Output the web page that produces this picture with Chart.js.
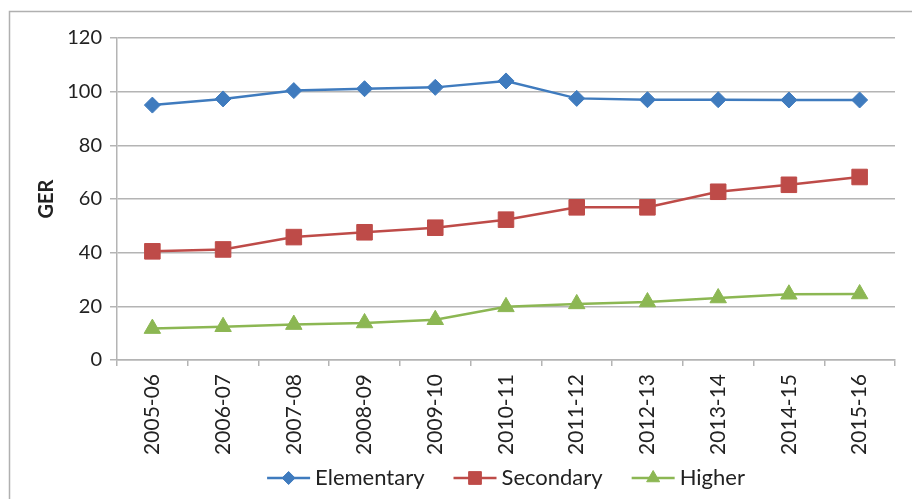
<!DOCTYPE html>
<html>
<head>
<meta charset="utf-8">
<script src="https://cdn.jsdelivr.net/npm/chart.js@4.4.0/dist/chart.umd.min.js"></script>
<style>
  html, body { margin: 0; padding: 0; background: #fff; }
  #wrap { width: 912px; height: 499px; }
</style>
</head>
<body>
<div id="wrap"><canvas id="myCanvas" width="912" height="499"></canvas></div>
<script>
// data
var years = ['2005-06', '2006-07', '2007-08', '2008-09', '2009-10', '2010-11', '2011-12', '2012-13', '2013-14', '2014-15', '2015-16'];
var elementary = [95.0, 97.3, 100.4, 101.1, 101.6, 104.0, 97.5, 97.0, 97.0, 96.9, 96.9];
var secondary = [40.5, 41.2, 45.8, 47.6, 49.3, 52.3, 56.9, 56.9, 62.7, 65.3, 68.2];
var higher = [11.7, 12.4, 13.2, 13.8, 15.0, 19.8, 20.9, 21.6, 23.1, 24.5, 24.6];
var yTicks = [0, 20, 40, 60, 80, 100, 120];

var blue = '#3F7BBE';
var red = '#BE4B48';
var green = '#8CB753';
var gridCol = '#b4b4b4';
var textCol = '#222222';

var legendLead = 19;   // empty space in front of each legend line
var legendLine = 43;   // length of the legend line
var legendMarks = [
  { pointStyle: 'rectRot', radius: 6.5 },
  { pointStyle: 'rect', radius: 9 },
  { pointStyle: 'triangle', radius: 7.5 }
];

// frame around the chart + excel style legend (line with marker)
var excelBits = {
  id: 'excelBits',
  afterLayout: function(chart) {
    var lg = chart.legend;
    lg.left = chart.chartArea.left - legendLead;
    lg.right = chart.chartArea.right;
  },
  beforeDraw: function(chart) {
    var ctx = chart.ctx;
    ctx.save();
    ctx.strokeStyle = '#b0b0b0';
    ctx.lineWidth = 1.5;
    ctx.beginPath();
    ctx.moveTo(9.5, 520);
    ctx.lineTo(9.5, 11.5);
    ctx.lineTo(920, 11.5);
    ctx.stroke();
    ctx.restore();
  },
  afterDraw: function(chart) {
    var ctx = chart.ctx;
    var boxes = chart.legend.legendHitBoxes || [];
    var sets = chart.data.datasets;
    ctx.save();
    boxes.forEach(function(b, i) {
      var y = b.top + b.height / 2;
      var x0 = b.left + legendLead;
      ctx.strokeStyle = sets[i].borderColor;
      ctx.lineWidth = 2.5;
      ctx.beginPath();
      ctx.moveTo(x0, y);
      ctx.lineTo(x0 + legendLine, y);
      ctx.stroke();
      ctx.fillStyle = sets[i].backgroundColor;
      ctx.strokeStyle = sets[i].borderColor;
      ctx.lineWidth = 1;
      Chart.helpers.drawPoint(ctx, {
        pointStyle: legendMarks[i].pointStyle,
        radius: legendMarks[i].radius,
        borderWidth: 1,
        rotation: 0
      }, x0 + legendLine / 2, y);
    });
    ctx.restore();
  }
};

var c = document.getElementById('myCanvas');
var ctx = c.getContext('2d');

Chart.defaults.font.family = 'Lato, "Liberation Sans", sans-serif';
Chart.defaults.color = textCol;

const lineChart = new Chart(ctx, {
  type: 'line',
  data: {
    labels: years,
    datasets: [{
      label: 'Elementary',
      data: elementary,
      borderColor: blue,
      backgroundColor: blue,
      borderWidth: 2.5,
      pointStyle: 'rectRot',
      pointRadius: 8,
      pointBorderWidth: 1
    }, {
      label: 'Secondary',
      data: secondary,
      borderColor: red,
      backgroundColor: red,
      borderWidth: 2.5,
      pointStyle: 'rect',
      pointRadius: 11,
      pointBorderWidth: 1
    }, {
      label: 'Higher',
      data: higher,
      borderColor: green,
      backgroundColor: green,
      borderWidth: 2.5,
      pointStyle: 'triangle',
      pointRadius: 9.5,
      pointBorderWidth: 1
    }]
  },
  options: {
    responsive: false,
    animation: false,
    layout: {
      padding: { top: 38, left: 10, right: 17, bottom: 0 }
    },
    scales: {
      x: {
        offset: true,
        grid: {
          display: true,
          offset: true,
          drawOnChartArea: false,
          drawTicks: true,
          tickLength: 6,
          color: gridCol,
          lineWidth: 1.5
        },
        border: { display: true, color: gridCol, width: 1.5 },
        ticks: {
          minRotation: 90,
          maxRotation: 90,
          autoSkip: false,
          padding: 8,
          color: textCol,
          font: { size: 21 }
        },
        afterFit: function(scale) { scale.height = 97; }
      },
      y: {
        min: 0,
        max: 120,
        afterBuildTicks: function(scale) {
          scale.ticks = yTicks.map(function(v) { return { value: v }; });
        },
        grid: {
          color: gridCol,
          lineWidth: 1.5,
          drawTicks: true,
          tickLength: 7
        },
        border: { display: true, color: gridCol, width: 1.5 },
        ticks: {
          padding: 8,
          color: textCol,
          font: { size: 20 }
        },
        title: {
          display: true,
          text: 'GER',
          color: textCol,
          font: { size: 20, weight: 'bold' },
          padding: { top: 25, bottom: 0 }
        },
        afterFit: function(scale) { scale.width = 107; }
      }
    },
    plugins: {
      legend: {
        position: 'bottom',
        labels: {
          usePointStyle: true,
          pointStyleWidth: legendLead + legendLine - 6,
          boxHeight: 9,
          padding: 10,
          color: textCol,
          font: { size: 22 },
          generateLabels: function(chart) {
            var items = Chart.defaults.plugins.legend.labels.generateLabels(chart);
            items.forEach(function(it) {
              it.fillStyle = 'rgba(0,0,0,0)';
              it.strokeStyle = 'rgba(0,0,0,0)';
            });
            return items;
          }
        }
      },
      tooltip: { enabled: false }
    }
  },
  plugins: [excelBits]
});
</script>
</body>
</html>
